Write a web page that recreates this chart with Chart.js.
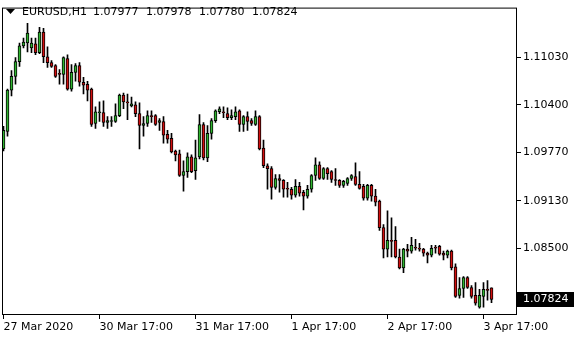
<!DOCTYPE html>
<html>
<head>
<meta charset="utf-8">
<script src="https://cdn.jsdelivr.net/npm/chart.js"></script>
<style>
  html, body { margin: 0; padding: 0; background: #fff; }
  canvas { display: block; }
</style>
</head>
<body>
<canvas id="chart" width="580" height="340"></canvas>
<script>
// EURUSD H1 candles, 27 Mar 2020 17:00 .. 3 Apr 2020
const symbol = 'EURUSD,H1';
const opens = [
  1.09814, 1.10048, 1.10594, 1.10776, 1.10971, 1.11179, 1.11218, 1.11153, 1.11205, 1.11088,
  1.11361, 1.11036, 1.10958, 1.10919, 1.10815, 1.10802, 1.11010, 1.10607, 1.10828, 1.10919,
  1.10698, 1.10672, 1.10607, 1.10152, 1.10295, 1.10295, 1.10165, 1.10178, 1.10178, 1.10256,
  1.10529, 1.10438, 1.10386, 1.10399, 1.10282, 1.10126, 1.10152, 1.10256, 1.10256, 1.10165,
  1.10178, 1.10009, 1.09957, 1.09788, 1.09749, 1.09463, 1.09515, 1.09710, 1.09528, 1.09710,
  1.10139, 1.09697, 1.10022, 1.10191, 1.10308, 1.10308, 1.10282, 1.10230, 1.10243, 1.10321,
  1.10139, 1.10243, 1.10191, 1.10139, 1.10243, 1.09827, 1.09593, 1.09554, 1.09307, 1.09424,
  1.09398, 1.09294, 1.09281, 1.09203, 1.09320, 1.09242, 1.09190, 1.09281, 1.09463, 1.09606,
  1.09424, 1.09554, 1.09515, 1.09411, 1.09398, 1.09333, 1.09359, 1.09424, 1.09450, 1.09346,
  1.09320, 1.09164, 1.09333, 1.09190, 1.09125, 1.08774, 1.08488, 1.08605, 1.08605, 1.08384,
  1.08241, 1.08488, 1.08462, 1.08514, 1.08501, 1.08488, 1.08436, 1.08410, 1.08514, 1.08527,
  1.08436, 1.08410, 1.08462, 1.08254, 1.07877, 1.07968, 1.08111, 1.07981, 1.07877, 1.07721,
  1.07864, 1.07955, 1.07977
];
const highs = [
  1.10113, 1.10607, 1.10854, 1.11023, 1.11218, 1.11283, 1.11478, 1.11283, 1.11283, 1.11426,
  1.11413, 1.11166, 1.10984, 1.10932, 1.10867, 1.11036, 1.11062, 1.10932, 1.10945, 1.10958,
  1.10763, 1.10711, 1.10620, 1.10373, 1.10438, 1.10451, 1.10243, 1.10243, 1.10412, 1.10542,
  1.10555, 1.10542, 1.10503, 1.10438, 1.10425, 1.10243, 1.10321, 1.10321, 1.10269, 1.10217,
  1.10243, 1.10061, 1.10022, 1.09801, 1.09801, 1.09658, 1.09762, 1.09736, 1.09931, 1.10269,
  1.10165, 1.10126, 1.10217, 1.10334, 1.10373, 1.10373, 1.10360, 1.10334, 1.10373, 1.10334,
  1.10256, 1.10308, 1.10217, 1.10321, 1.10256, 1.09931, 1.09619, 1.09580, 1.09476, 1.09476,
  1.09411, 1.09372, 1.09307, 1.09411, 1.09372, 1.09268, 1.09333, 1.09476, 1.09697, 1.09645,
  1.09567, 1.09567, 1.09528, 1.09554, 1.09411, 1.09398, 1.09437, 1.09476, 1.09632, 1.09515,
  1.09346, 1.09346, 1.09346, 1.09281, 1.09138, 1.08813, 1.08995, 1.08904, 1.08787, 1.08488,
  1.08501, 1.08553, 1.08644, 1.08618, 1.08566, 1.08501, 1.08449, 1.08540, 1.08540, 1.08540,
  1.08462, 1.08475, 1.08475, 1.08293, 1.08111, 1.08124, 1.08124, 1.08007, 1.08046, 1.07955,
  1.08046, 1.08072, 1.07978
];
const lows = [
  1.09788, 1.09983, 1.10516, 1.10672, 1.10906, 1.11153, 1.11101, 1.11088, 1.11062, 1.11075,
  1.10958, 1.10893, 1.10893, 1.10763, 1.10672, 1.10672, 1.10594, 1.10581, 1.10711, 1.10646,
  1.10542, 1.10451, 1.10113, 1.10087, 1.10178, 1.10113, 1.10087, 1.10113, 1.10165, 1.10243,
  1.10347, 1.10204, 1.10373, 1.10243, 1.09814, 1.09983, 1.10113, 1.10165, 1.10126, 1.10061,
  1.09892, 1.09892, 1.09762, 1.09658, 1.09450, 1.09255, 1.09437, 1.09502, 1.09411, 1.09684,
  1.09671, 1.09645, 1.09944, 1.10165, 1.10282, 1.10230, 1.10204, 1.10204, 1.10204, 1.10048,
  1.10048, 1.10061, 1.10126, 1.10126, 1.09801, 1.09567, 1.09281, 1.09151, 1.09281, 1.09242,
  1.09177, 1.09177, 1.09151, 1.09177, 1.09190, 1.09008, 1.09164, 1.09242, 1.09398, 1.09411,
  1.09411, 1.09411, 1.09372, 1.09333, 1.09307, 1.09307, 1.09333, 1.09398, 1.09333, 1.09281,
  1.09138, 1.09138, 1.09125, 1.09060, 1.08735, 1.08371, 1.08384, 1.08384, 1.08371, 1.08228,
  1.08176, 1.08384, 1.08436, 1.08475, 1.08462, 1.08397, 1.08306, 1.08384, 1.08436, 1.08410,
  1.08345, 1.08371, 1.08215, 1.07851, 1.07838, 1.07851, 1.07968, 1.07838, 1.07747, 1.07708,
  1.07721, 1.07812, 1.07780
];
const closes = [
  1.10061, 1.10594, 1.10776, 1.10971, 1.11179, 1.11231, 1.11348, 1.11218, 1.11088, 1.11361,
  1.11036, 1.10958, 1.10906, 1.10776, 1.10802, 1.11023, 1.10607, 1.10828, 1.10919, 1.10698,
  1.10659, 1.10594, 1.10139, 1.10308, 1.10308, 1.10165, 1.10191, 1.10191, 1.10256, 1.10529,
  1.10438, 1.10425, 1.10412, 1.10282, 1.10126, 1.10152, 1.10256, 1.10243, 1.10139, 1.10191,
  1.09996, 1.09944, 1.09775, 1.09736, 1.09463, 1.09515, 1.09710, 1.09515, 1.09697, 1.10139,
  1.09697, 1.10022, 1.10191, 1.10321, 1.10347, 1.10295, 1.10230, 1.10256, 1.10308, 1.10139,
  1.10243, 1.10178, 1.10152, 1.10243, 1.09814, 1.09593, 1.09554, 1.09307, 1.09424, 1.09398,
  1.09281, 1.09281, 1.09203, 1.09320, 1.09229, 1.09190, 1.09281, 1.09463, 1.09606, 1.09424,
  1.09554, 1.09489, 1.09411, 1.09398, 1.09333, 1.09385, 1.09424, 1.09463, 1.09346, 1.09294,
  1.09164, 1.09333, 1.09190, 1.09112, 1.08774, 1.08488, 1.08605, 1.08592, 1.08384, 1.08241,
  1.08488, 1.08462, 1.08540, 1.08501, 1.08488, 1.08436, 1.08410, 1.08501, 1.08501, 1.08423,
  1.08410, 1.08462, 1.08241, 1.07864, 1.07968, 1.08111, 1.07981, 1.07864, 1.07773, 1.07877,
  1.07955, 1.07942, 1.07824
];

// time scale labels (bar index -> text)
const xTickIdx = [0, 24, 48, 72, 96, 120];
const xTickLabels = ['27 Mar 2020', '30 Mar 17:00', '31 Mar 17:00', '1 Apr 17:00', '2 Apr 17:00', '3 Apr 17:00'];
// price scale labels
const yTickValues = [1.11030, 1.10400, 1.09770, 1.09130, 1.08500];

const upColor = '#2fb42f';
const downColor = '#d20f0f';
const font = { family: 'DejaVu Sans', size: 11 };

const bodyColors = opens.map((o, i) => closes[i] > o ? upColor : (closes[i] < o ? downColor : '#000'));

// frame, last price box and the header line
const mtDecor = {
  id: 'mtDecor',
  afterDraw(chart) {
    const { ctx, chartArea: a, scales } = chart;
    ctx.save();
    ctx.strokeStyle = '#000';
    ctx.lineWidth = 1;
    ctx.strokeRect(a.left - 0.5, a.top - 0.5, a.right - a.left + 1, a.bottom - a.top + 1);

    const last = closes[closes.length - 1];
    const y = Math.round(scales.y.getPixelForValue(last));
    ctx.fillStyle = '#000';
    ctx.fillRect(a.right + 1, y - 7, 57, 15);
    ctx.fillStyle = '#fff';
    ctx.font = font.size + 'px "' + font.family + '"';
    ctx.textBaseline = 'middle';
    ctx.fillText(last.toFixed(5), a.right + 7, y + 0.5);

    // header: symbol + OHLC of the last bar
    ctx.fillStyle = '#000';
    ctx.beginPath();
    ctx.moveTo(6, 9);
    ctx.lineTo(15, 9);
    ctx.lineTo(10.5, 14);
    ctx.closePath();
    ctx.fill();
    const n = closes.length - 1;
    ctx.fillText(symbol, 22, 12);
    [opens[n], highs[n], lows[n], closes[n]].forEach((v, k) => {
      ctx.fillText(v.toFixed(5), 93 + k * 53, 12);
    });
    ctx.restore();
  }
};

const ctx = document.getElementById('chart').getContext('2d');
new Chart(ctx, {
  type: 'bar',
  data: {
    datasets: [
      {
        // bodies (drawn on top)
        data: opens.map((o, i) => ({ x: i, y: [o, closes[i]] })),
        backgroundColor: bodyColors,
        borderColor: '#000',
        borderWidth: 1,
        borderSkipped: false,
        barThickness: 3,
        grouped: false,
        order: 0
      },
      {
        // wicks
        data: lows.map((l, i) => ({ x: i, y: [l, highs[i]] })),
        backgroundColor: '#000',
        borderWidth: 0,
        barThickness: 1,
        grouped: false,
        order: 1
      }
    ]
  },
  options: {
    responsive: false,
    animation: false,
    layout: { padding: { left: 3, top: 3 } },
    plugins: { legend: { display: false }, tooltip: { enabled: false } },
    scales: {
      x: {
        type: 'linear',
        offset: false,
        min: -0.125,
        max: 128.125,
        afterBuildTicks: s => { s.ticks = xTickIdx.map(v => ({ value: v })); },
        afterFit: s => { s.height = 26; },
        border: { display: false },
        grid: { offset: false, drawOnChartArea: false, drawTicks: true, tickLength: 5, color: '#000' },
        ticks: {
          align: 'start', autoSkip: false, maxRotation: 0, padding: 2,
          color: '#000', font: font,
          callback: (v, i) => xTickLabels[i]
        }
      },
      y: {
        type: 'linear',
        position: 'right',
        min: 1.07630,
        max: 1.11673,
        afterBuildTicks: s => { s.ticks = yTickValues.map(v => ({ value: v })); },
        afterFit: s => { s.width = 64; },
        border: { display: false },
        grid: { drawOnChartArea: false, drawTicks: true, tickLength: 5, color: '#000' },
        ticks: {
          padding: 2, color: '#000', font: font,
          callback: v => v.toFixed(5)
        }
      }
    }
  },
  plugins: [mtDecor]
});
</script>
</body>
</html>
